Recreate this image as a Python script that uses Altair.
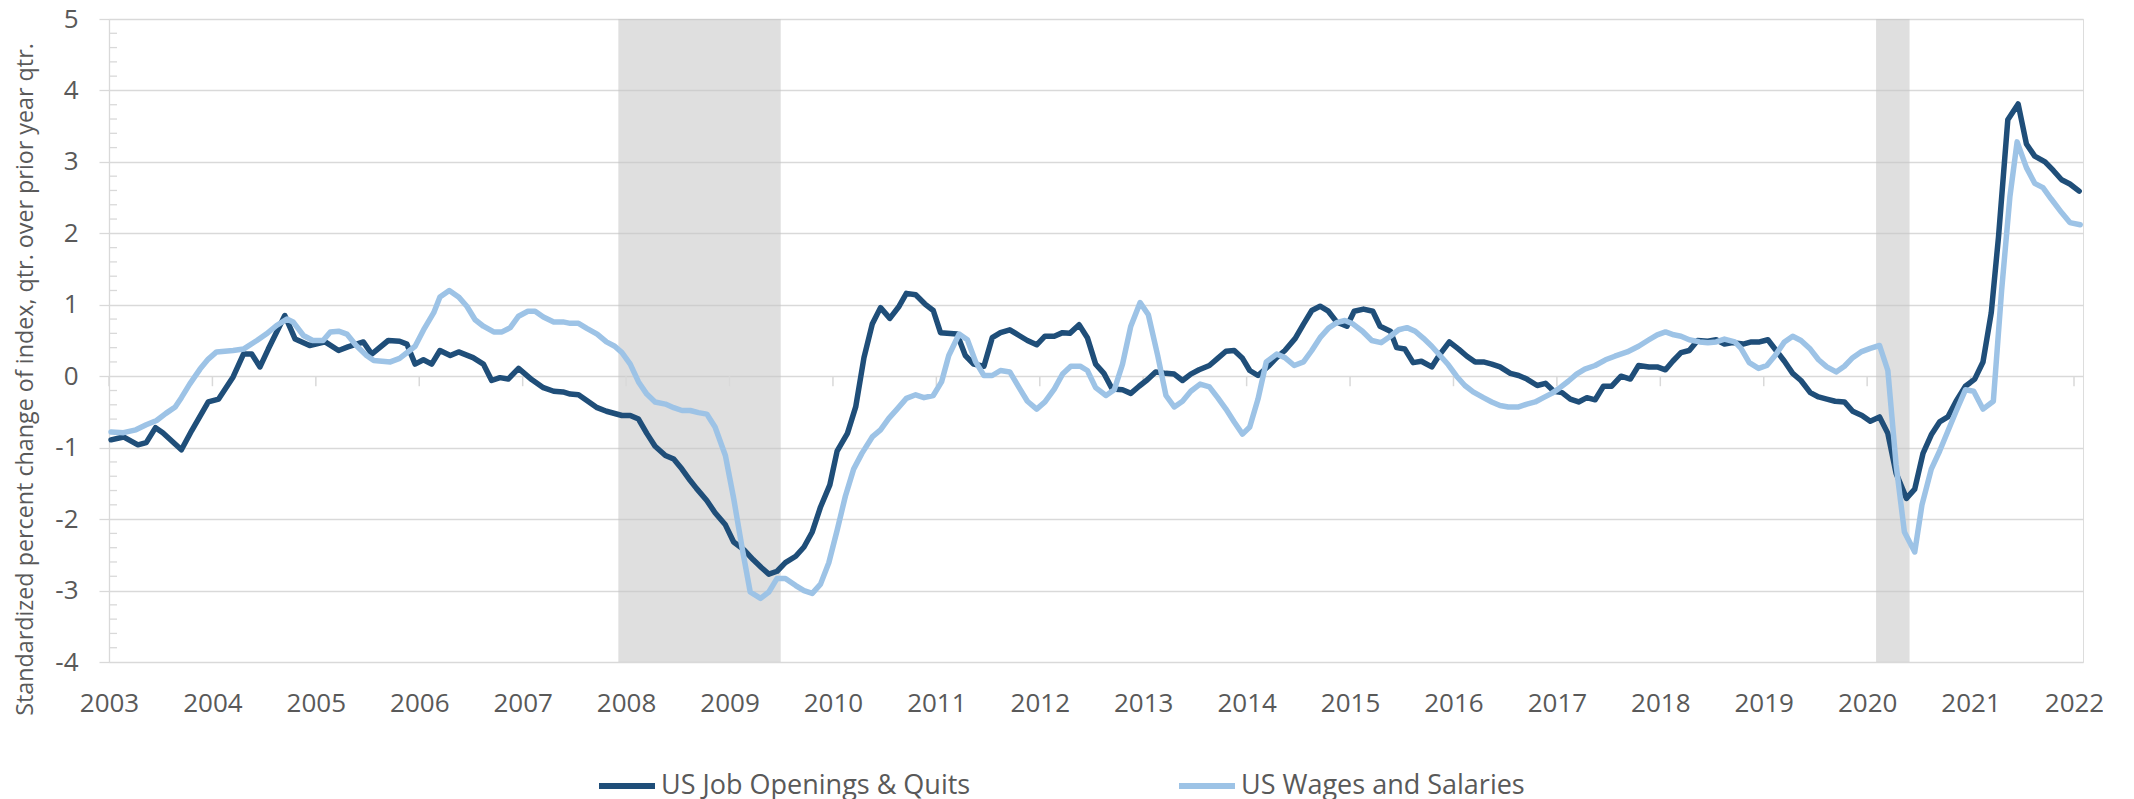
import altair as alt
import pandas as pd

# ---------------- data ----------------
jobs_t = [2003.02, 2003.14, 2003.28, 2003.36, 2003.45, 2003.52, 2003.70, 2003.80, 2003.96, 2004.06,
          2004.20, 2004.30, 2004.38, 2004.46, 2004.54, 2004.70, 2004.80, 2004.94, 2005.09, 2005.22,
          2005.31, 2005.46, 2005.54, 2005.70, 2005.81, 2005.88, 2005.96, 2006.04, 2006.12, 2006.20,
          2006.30, 2006.38, 2006.52, 2006.62, 2006.70, 2006.78, 2006.86, 2006.96, 2007.09, 2007.20,
          2007.30, 2007.39, 2007.46, 2007.54, 2007.62, 2007.72, 2007.81, 2007.96, 2008.04, 2008.12,
          2008.20, 2008.28, 2008.38, 2008.46, 2008.54, 2008.62, 2008.68, 2008.78, 2008.86, 2008.96,
          2009.04, 2009.14, 2009.23, 2009.31, 2009.38, 2009.46, 2009.54, 2009.64, 2009.72, 2009.80,
          2009.88, 2009.97, 2010.04, 2010.14, 2010.22, 2010.30, 2010.38, 2010.46, 2010.55, 2010.64,
          2010.71, 2010.80, 2010.89, 2010.97, 2011.04, 2011.20, 2011.28, 2011.36, 2011.46, 2011.54,
          2011.62, 2011.71, 2011.80, 2011.88, 2011.97, 2012.05, 2012.14, 2012.22, 2012.29, 2012.38,
          2012.46, 2012.54, 2012.62, 2012.70, 2012.80, 2012.88, 2012.96, 2013.04, 2013.12, 2013.22,
          2013.30, 2013.38, 2013.46, 2013.54, 2013.64, 2013.72, 2013.80, 2013.88, 2013.96, 2014.03,
          2014.11, 2014.21, 2014.29, 2014.37, 2014.47, 2014.55, 2014.63, 2014.71, 2014.79, 2014.87,
          2014.97, 2015.04, 2015.13, 2015.22, 2015.29, 2015.39, 2015.45, 2015.53, 2015.61, 2015.69,
          2015.79, 2015.87, 2015.96, 2016.05, 2016.13, 2016.21, 2016.29, 2016.37, 2016.45, 2016.55,
          2016.63, 2016.71, 2016.81, 2016.89, 2016.97, 2017.05, 2017.13, 2017.21, 2017.29, 2017.37,
          2017.45, 2017.53, 2017.62, 2017.71, 2017.79, 2017.89, 2017.97, 2018.05, 2018.12, 2018.20,
          2018.28, 2018.36, 2018.46, 2018.54, 2018.62, 2018.70, 2018.80, 2018.88, 2018.96, 2019.04,
          2019.12, 2019.20, 2019.28, 2019.36, 2019.45, 2019.53, 2019.61, 2019.69, 2019.78, 2019.86,
          2019.95, 2020.03, 2020.12, 2020.20, 2020.28, 2020.38, 2020.46, 2020.54, 2020.62, 2020.70,
          2020.78, 2020.86, 2020.95, 2021.04, 2021.12, 2021.20, 2021.27, 2021.36, 2021.46, 2021.54,
          2021.62, 2021.72, 2021.80, 2021.88, 2021.96, 2022.05]
jobs_v = [-0.89, -0.85, -0.96, -0.93, -0.72, -0.79, -1.03, -0.76, -0.36, -0.32,
          -0.01, 0.31, 0.31, 0.13, 0.38, 0.85, 0.52, 0.43, 0.48, 0.36,
          0.41, 0.48, 0.31, 0.50, 0.49, 0.45, 0.17, 0.23, 0.17, 0.36,
          0.29, 0.34, 0.26, 0.17, -0.06, -0.02, -0.04, 0.11, -0.05, -0.16,
          -0.21, -0.22, -0.25, -0.26, -0.34, -0.44, -0.49, -0.55, -0.55, -0.60,
          -0.80, -0.98, -1.11, -1.16, -1.30, -1.46, -1.57, -1.74, -1.91, -2.08,
          -2.32, -2.43, -2.57, -2.68, -2.77, -2.73, -2.61, -2.52, -2.39, -2.18,
          -1.83, -1.52, -1.05, -0.80, -0.43, 0.26, 0.73, 0.96, 0.81, 0.98,
          1.16, 1.14, 1.01, 0.92, 0.61, 0.59, 0.29, 0.17, 0.14, 0.54,
          0.61, 0.65, 0.57, 0.50, 0.44, 0.56, 0.56, 0.61, 0.60, 0.72,
          0.54, 0.17, 0.04, -0.18, -0.19, -0.24, -0.14, -0.05, 0.06, 0.04,
          0.03, -0.06, 0.03, 0.09, 0.15, 0.25, 0.35, 0.36, 0.25, 0.08,
          0.01, 0.14, 0.26, 0.36, 0.53, 0.73, 0.92, 0.98, 0.91, 0.76,
          0.70, 0.91, 0.94, 0.91, 0.70, 0.63, 0.40, 0.38, 0.19, 0.21,
          0.13, 0.31, 0.48, 0.38, 0.28, 0.20, 0.20, 0.17, 0.13, 0.04,
          0.01, -0.04, -0.13, -0.10, -0.21, -0.23, -0.32, -0.36, -0.30, -0.33,
          -0.14, -0.14, 0.00, -0.04, 0.15, 0.13, 0.13, 0.09, 0.21, 0.33,
          0.36, 0.50, 0.49, 0.51, 0.45, 0.47, 0.45, 0.48, 0.48, 0.51,
          0.36, 0.21, 0.04, -0.06, -0.23, -0.29, -0.32, -0.35, -0.36, -0.49,
          -0.55, -0.63, -0.57, -0.80, -1.36, -1.71, -1.58, -1.08, -0.82, -0.64,
          -0.57, -0.35, -0.14, -0.04, 0.20, 0.89, 1.95, 3.59, 3.81, 3.25,
          3.08, 3.00, 2.88, 2.75, 2.69, 2.59]

wages_t = [2003.02, 2003.14, 2003.26, 2003.36, 2003.46, 2003.55, 2003.64, 2003.70, 2003.78, 2003.88,
           2003.96, 2004.04, 2004.20, 2004.30, 2004.43, 2004.52, 2004.62, 2004.72, 2004.78, 2004.88,
           2004.97, 2005.07, 2005.14, 2005.22, 2005.30, 2005.39, 2005.49, 2005.56, 2005.72, 2005.81,
           2005.96, 2006.05, 2006.14, 2006.20, 2006.29, 2006.38, 2006.46, 2006.54, 2006.62, 2006.72,
           2006.80, 2006.88, 2006.96, 2007.05, 2007.12, 2007.20, 2007.30, 2007.39, 2007.46, 2007.54,
           2007.62, 2007.72, 2007.81, 2007.89, 2007.96, 2008.04, 2008.12, 2008.20, 2008.28, 2008.38,
           2008.46, 2008.54, 2008.62, 2008.70, 2008.78, 2008.86, 2008.96, 2009.04, 2009.12, 2009.20,
           2009.30, 2009.38, 2009.46, 2009.54, 2009.64, 2009.72, 2009.80, 2009.88, 2009.96, 2010.04,
           2010.12, 2010.20, 2010.28, 2010.38, 2010.46, 2010.54, 2010.62, 2010.71, 2010.80, 2010.88,
           2010.97, 2011.05, 2011.12, 2011.22, 2011.30, 2011.38, 2011.46, 2011.54, 2011.62, 2011.71,
           2011.80, 2011.88, 2011.97, 2012.05, 2012.14, 2012.22, 2012.30, 2012.39, 2012.46, 2012.54,
           2012.64, 2012.72, 2012.80, 2012.88, 2012.97, 2013.05, 2013.14, 2013.22, 2013.30, 2013.38,
           2013.46, 2013.55, 2013.64, 2013.72, 2013.80, 2013.88, 2013.96, 2014.03, 2014.11, 2014.19,
           2014.29, 2014.37, 2014.46, 2014.55, 2014.63, 2014.71, 2014.79, 2014.87, 2014.95, 2015.03,
           2015.12, 2015.21, 2015.30, 2015.39, 2015.47, 2015.55, 2015.63, 2015.71, 2015.79, 2015.87,
           2015.95, 2016.03, 2016.11, 2016.19, 2016.29, 2016.37, 2016.45, 2016.53, 2016.63, 2016.71,
           2016.79, 2016.87, 2016.95, 2017.03, 2017.11, 2017.19, 2017.27, 2017.37, 2017.47, 2017.56,
           2017.68, 2017.79, 2017.89, 2017.97, 2018.05, 2018.13, 2018.20, 2018.28, 2018.38, 2018.46,
           2018.54, 2018.62, 2018.72, 2018.78, 2018.86, 2018.95, 2019.03, 2019.11, 2019.20, 2019.28,
           2019.36, 2019.45, 2019.53, 2019.61, 2019.70, 2019.78, 2019.86, 2019.94, 2020.03, 2020.12,
           2020.20, 2020.28, 2020.36, 2020.46, 2020.53, 2020.62, 2020.70, 2020.78, 2020.86, 2020.95,
           2021.03, 2021.12, 2021.22, 2021.30, 2021.38, 2021.45, 2021.54, 2021.62, 2021.70, 2021.78,
           2021.88, 2021.96, 2022.06]
wages_v = [-0.78, -0.79, -0.75, -0.68, -0.62, -0.52, -0.43, -0.30, -0.11, 0.10,
           0.24, 0.34, 0.36, 0.38, 0.50, 0.59, 0.71, 0.80, 0.76, 0.57,
           0.50, 0.50, 0.62, 0.63, 0.59, 0.43, 0.29, 0.22, 0.20, 0.25,
           0.42, 0.67, 0.89, 1.11, 1.20, 1.11, 0.98, 0.79, 0.70, 0.62,
           0.62, 0.68, 0.84, 0.91, 0.91, 0.83, 0.76, 0.76, 0.74, 0.74,
           0.67, 0.59, 0.48, 0.42, 0.33, 0.17, -0.08, -0.25, -0.36, -0.39,
           -0.44, -0.48, -0.48, -0.51, -0.53, -0.71, -1.11, -1.71, -2.39, -3.02,
           -3.11, -3.02, -2.83, -2.83, -2.93, -3.00, -3.04, -2.91, -2.61, -2.16,
           -1.68, -1.30, -1.08, -0.85, -0.75, -0.59, -0.46, -0.31, -0.26, -0.30,
           -0.27, -0.08, 0.29, 0.59, 0.51, 0.20, 0.01, 0.01, 0.08, 0.06,
           -0.16, -0.35, -0.46, -0.36, -0.18, 0.03, 0.14, 0.14, 0.08, -0.16,
           -0.27, -0.19, 0.17, 0.70, 1.03, 0.86, 0.29, -0.27, -0.43, -0.35,
           -0.21, -0.11, -0.15, -0.30, -0.46, -0.64, -0.81, -0.71, -0.32, 0.20,
           0.31, 0.26, 0.15, 0.20, 0.36, 0.54, 0.67, 0.75, 0.78, 0.73,
           0.63, 0.50, 0.47, 0.56, 0.65, 0.68, 0.63, 0.53, 0.42, 0.29,
           0.16, 0.00, -0.13, -0.22, -0.30, -0.36, -0.41, -0.43, -0.43, -0.39,
           -0.36, -0.30, -0.24, -0.16, -0.07, 0.03, 0.10, 0.15, 0.23, 0.28,
           0.34, 0.42, 0.51, 0.58, 0.62, 0.58, 0.56, 0.51, 0.48, 0.47,
           0.48, 0.52, 0.48, 0.39, 0.19, 0.11, 0.15, 0.29, 0.48, 0.56,
           0.50, 0.38, 0.23, 0.13, 0.06, 0.14, 0.26, 0.34, 0.39, 0.43,
           0.08, -1.24, -2.18, -2.46, -1.80, -1.30, -1.05, -0.77, -0.49, -0.19,
           -0.21, -0.46, -0.35, 1.20, 2.51, 3.28, 2.92, 2.70, 2.64, 2.48,
           2.29, 2.15, 2.12]

recession_start = [2007.925, 2020.086]
recession_end = [2009.495, 2020.41]

year_ticks = list(range(2003, 2023))
y_ticks = list(range(-4, 6))
minor_y_ticks = [round(-4 + 0.2 * i, 1) for i in range(46) if i % 5 != 0]

series_names = ["US Job Openings & Quits", "US Wages and Salaries"]
series_colors = ["#1F4E79", "#9DC3E6"]
y_title = "Standardized percent change of index, qtr. over prior year qtr."

# ---------------- tables ----------------
jobs = pd.DataFrame({"t": jobs_t, "v": jobs_v, "s": series_names[0]})
wages = pd.DataFrame({"t": wages_t, "v": wages_v, "s": series_names[1]})
rec = pd.DataFrame({"a": recession_start, "b": recession_end})
yr = pd.DataFrame({"t": year_ticks})
minor = pd.DataFrame({"y": minor_y_ticks})

# ---------------- style ----------------
W, H = 1974, 643
FONT = "Open Sans"
GRAY = "#D9D9D9"
TEXT = "#595959"

xs = alt.Scale(domain=[2003, 2022.087], nice=False, zero=False)
ys = alt.Scale(domain=[-4, 5], nice=False, zero=False)

x_axis = alt.Axis(values=year_ticks, format="d", grid=False, domain=False, ticks=False,
                  labelFont=FONT, labelFontSize=26, labelColor=TEXT, labelPadding=28,
                  labelFlush=False, labelOverlap=False, title=None)
y_axis = alt.Axis(values=y_ticks, labelExpr="toString(datum.value)", grid=True,
                  gridColor=GRAY, gridWidth=1.3, domainColor=GRAY, domainWidth=1.3,
                  tickColor=GRAY, tickWidth=1.3, tickSize=10,
                  labelFont=FONT, labelFontSize=26, labelColor=TEXT, labelPadding=21,
                  labelFlush=False,
                  title=y_title, titleFont=FONT, titleFontSize=23.3, titleColor=TEXT,
                  titleFontWeight="normal", titleAngle=270, titleX=-84, titleY=360,
                  titleBaseline="middle", titleAlign="center")

color = alt.Color("s:N", scale=alt.Scale(domain=series_names, range=series_colors),
                  legend=alt.Legend(title=None, orient="none", legendX=487, legendY=736,
                                    direction="horizontal", symbolType="stroke",
                                    symbolSize=3136, symbolStrokeWidth=6,
                                    labelFont=FONT, labelFontSize=27, labelColor=TEXT,
                                    labelOffset=3, columnPadding=196, padding=0,
                                    labelLimit=0))

shade = alt.Chart(rec).mark_rect(fill="#C4C4C4", opacity=0.55).encode(
    x=alt.X("a:Q", scale=xs, axis=x_axis),
    x2="b:Q",
    y=alt.Y(datum=5, scale=ys, axis=y_axis),
    y2=alt.datum(-4),
)

zero_ticks = alt.Chart(yr).mark_rule(color=GRAY, strokeWidth=1.5).encode(
    x=alt.X("t:Q", scale=xs, axis=x_axis),
    y=alt.Y(datum=0, scale=ys, axis=y_axis),
    y2=alt.datum(-0.14),
)

minor_ticks = alt.Chart(minor).mark_rule(color=GRAY, strokeWidth=1.3).encode(
    x=alt.value(0), x2=alt.value(8),
    y=alt.Y("y:Q", scale=ys, axis=y_axis),
)

line_jobs = alt.Chart(jobs).mark_line(strokeWidth=5.5, strokeJoin="round", strokeCap="round").encode(
    x=alt.X("t:Q", scale=xs, axis=x_axis),
    y=alt.Y("v:Q", scale=ys, axis=y_axis),
    color=color,
)

line_wages = alt.Chart(wages).mark_line(strokeWidth=5.5, strokeJoin="round", strokeCap="round").encode(
    x=alt.X("t:Q", scale=xs, axis=x_axis),
    y=alt.Y("v:Q", scale=ys, axis=y_axis),
    color=color,
)

chart = alt.layer(shade, zero_ticks, minor_ticks, line_jobs, line_wages).properties(
    width=W, height=H,
    padding={"left": 101, "top": 11, "right": 20, "bottom": 146},
    autosize=alt.AutoSizeParams(type="none"),
).configure_view(stroke=GRAY, strokeWidth=1.3).configure(background="white")

chart.save("out.html", embed_options={"renderer": "svg", "actions": False})
